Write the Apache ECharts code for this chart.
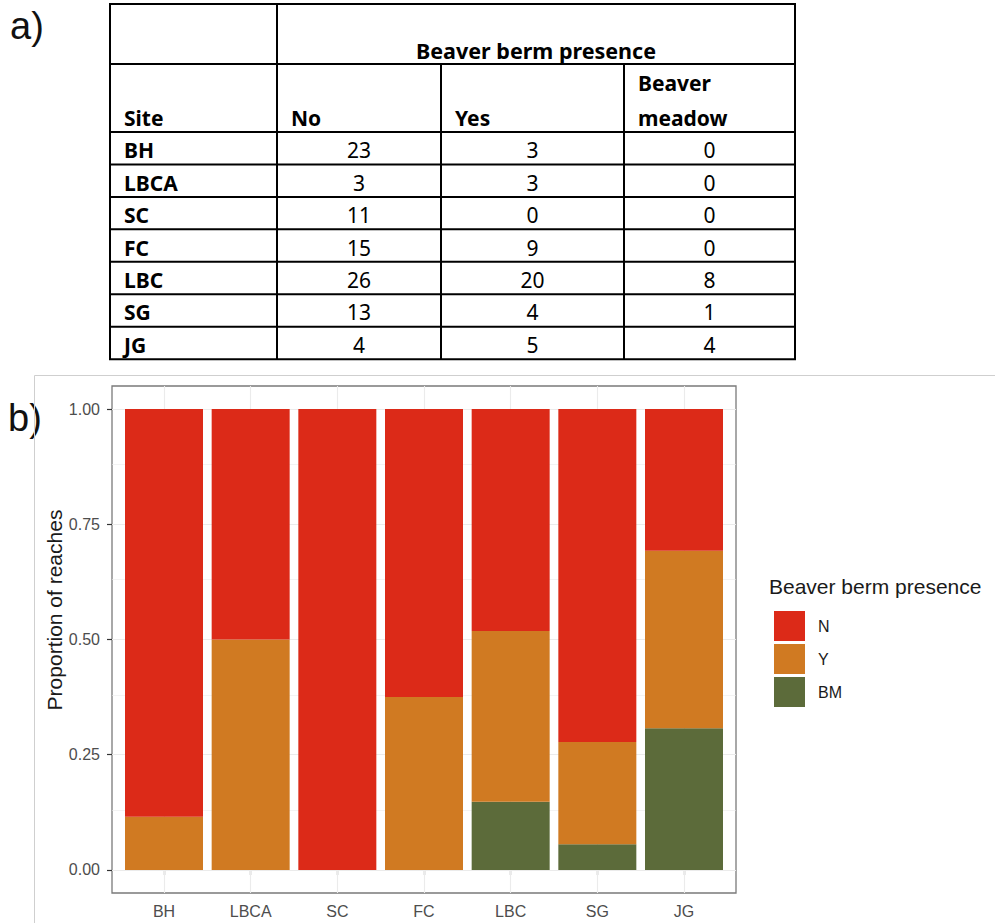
<!DOCTYPE html>
<html>
<head>
<meta charset="utf-8">
<title>Beaver berm presence by site</title>
<script src="https://cdn.jsdelivr.net/npm/echarts@6/dist/echarts.min.js"></script>
<style>
  html, body { margin: 0; padding: 0; background: #fff; }
  #main { width: 995px; height: 923px; }
</style>
</head>
<body>
<div id="main"></div>
<script>
// Reach counts per site, by beaver berm presence
const sites = ['BH', 'LBCA', 'SC', 'FC', 'LBC', 'SG', 'JG'];
const countNo = [23, 3, 11, 15, 26, 13, 4];
const countYes = [3, 3, 0, 9, 20, 4, 5];
const countMeadow = [0, 0, 0, 0, 8, 1, 4];

// Table headings
const tableGroupHeading = 'Beaver berm presence';
const tableHeadings = ['Site', 'No', 'Yes', 'Beaver\nmeadow'];

// Chart labels
const legendNames = ['N', 'Y', 'BM'];
const legendTitle = 'Beaver berm presence';
const yAxisTitle = 'Proportion of reaches';
const yTicks = [0, 0.25, 0.5, 0.75, 1];
const yMinor = [0.125, 0.375, 0.625, 0.875];

const colors = { N: '#dc2a18', Y: '#d07a22', BM: '#5c6b3a' };

const chart = echarts.init(document.getElementById('main'), null, { renderer: 'svg', width: 995, height: 923 });

// ---------- table (panel a) ----------
const colEdges = [110, 277, 441, 624, 795];
const rowH = 32.45;
const rowEdges = [4, 64, 132];
for (let i = 1; i <= sites.length; i++) rowEdges.push(132 + rowH * i);
const tableBottom = rowEdges[rowEdges.length - 1];
const tFont = '"Noto Sans", "DejaVu Sans", sans-serif';
const lineStyle = { stroke: '#000', lineWidth: 2 };

const graphics = [];
rowEdges.forEach(y => graphics.push({ type: 'line', shape: { x1: colEdges[0] - 1, y1: y, x2: colEdges[4] + 1, y2: y }, style: lineStyle, silent: true }));
[colEdges[0], colEdges[1], colEdges[4]].forEach(x => graphics.push({ type: 'line', shape: { x1: x, y1: rowEdges[0], x2: x, y2: tableBottom }, style: lineStyle, silent: true }));
[colEdges[2], colEdges[3]].forEach(x => graphics.push({ type: 'line', shape: { x1: x, y1: rowEdges[1], x2: x, y2: tableBottom }, style: lineStyle, silent: true }));

function tText(text, x, y, align, bold, size) {
  graphics.push({
    type: 'text', x: x, y: y, silent: true,
    style: { text: text, fill: '#000', font: (bold ? 'bold ' : '') + (size || 21) + 'px ' + tFont, align: align, verticalAlign: 'middle', lineHeight: 35 }
  });
}
tText(tableGroupHeading, (colEdges[1] + colEdges[4]) / 2, 50, 'center', true, 21.5);
tableHeadings.forEach((h, j) => {
  const lines = h.split('\n');
  const y = lines.length > 1 ? 100 : 118;
  tText(h, colEdges[j] + 14, y, 'left', true);
});
const tableCols = [countNo, countYes, countMeadow];
sites.forEach((s, i) => {
  const yc = rowEdges[2 + i] + rowH / 2 + 2;
  tText(s, colEdges[0] + 14, yc, 'left', true);
  tableCols.forEach((col, j) => tText(String(col[i]), (colEdges[j + 1] + colEdges[j + 2]) / 2, yc, 'center', false));
});

// panel letters
const pFont = '38px "Liberation Sans", Arial, sans-serif';
graphics.push({ type: 'text', x: 10, y: 26, silent: true, style: { text: 'a)', font: pFont, fill: '#111', verticalAlign: 'middle' } });
graphics.push({ type: 'text', x: 8, y: 418, silent: true, style: { text: 'b)', font: pFont, fill: '#111', verticalAlign: 'middle' } });

// frame around the plot figure
graphics.push({ type: 'line', shape: { x1: 34.5, y1: 375.5, x2: 995, y2: 375.5 }, style: { stroke: '#cfcfcf', lineWidth: 1 }, silent: true });
graphics.push({ type: 'line', shape: { x1: 34.5, y1: 375.5, x2: 34.5, y2: 923 }, style: { stroke: '#cfcfcf', lineWidth: 1 }, silent: true });

// axis title and legend title
const aFont = '"Liberation Sans", Arial, sans-serif';
graphics.push({ type: 'text', x: 54, y: 610, rotation: Math.PI / 2, silent: true, style: { text: yAxisTitle, font: '21px ' + aFont, fill: '#1a1a1a', align: 'center', verticalAlign: 'middle' } });
graphics.push({ type: 'text', x: 769, y: 586, silent: true, style: { text: legendTitle, font: '21px ' + aFont, fill: '#1a1a1a', align: 'left', verticalAlign: 'middle' } });

// ---------- stacked proportion bars (panel b) ----------
const totals = sites.map((s, i) => countNo[i] + countYes[i] + countMeadow[i]);
const share = counts => counts.map((c, i) => c / totals[i]);

// panel spans 7.2 category units (0.6 unit of padding each side);
// bars live in the inner grid, the outer grid carries the border and y axis
const panel = { left: 112, top: 386, width: 624, height: 507 };
const unit = panel.width / 7.2;
const yRange = { min: -0.05, max: 1.05 };

const gridColor = '#ebebeb';
const hLines = [];
yTicks.forEach(v => hLines.push({ yAxis: v, lineStyle: { color: gridColor, width: 1.1, type: 'solid' } }));
yMinor.forEach(v => hLines.push({ yAxis: v, lineStyle: { color: gridColor, width: 0.6, type: 'solid' } }));
const vLines = sites.map(s => ({ xAxis: s, lineStyle: { color: gridColor, width: 1.1, type: 'solid' } }));

function barSeries(name, counts) {
  return {
    name: name, type: 'bar', stack: 'share', z: 3,
    xAxisIndex: 0, yAxisIndex: 0,
    barWidth: '90%',
    data: share(counts),
    itemStyle: { color: colors[name] },
    emphasis: { disabled: true }
  };
}

chart.setOption({
  animation: false,
  backgroundColor: '#fff',
  graphic: graphics,
  grid: [
    { left: panel.left + unit * 0.1, top: panel.top, width: panel.width - unit * 0.2, height: panel.height, show: false },
    { left: panel.left, top: panel.top, width: panel.width, height: panel.height, show: true, backgroundColor: '#fff', borderColor: '#7a7a7a', borderWidth: 1.3, z: 0 }
  ],
  xAxis: [
    {
      type: 'category', gridIndex: 0, data: sites,
      axisLine: { show: false },
      splitLine: { show: false },
      axisTick: { show: true, alignWithLabel: true, interval: 0, length: 5, lineStyle: { color: '#333', width: 1.2 } },
      axisLabel: { interval: 0, color: '#4d4d4d', fontSize: 16, fontFamily: aFont, margin: 10 }
    },
    { type: 'value', gridIndex: 1, min: 0, max: 1, show: false }
  ],
  yAxis: [
    { type: 'value', gridIndex: 0, min: yRange.min, max: yRange.max, show: false },
    {
      type: 'value', gridIndex: 1, min: yRange.min, max: yRange.max,
      axisLine: { show: false },
      splitLine: { show: false },
      axisTick: { show: true, customValues: yTicks, length: 5, lineStyle: { color: '#333', width: 1.2 } },
      axisLabel: {
        customValues: yTicks,
        formatter: v => v.toFixed(2),
        color: '#4d4d4d', fontSize: 16, fontFamily: aFont, margin: 12
      }
    }
  ],
  legend: {
    data: legendNames,
    orient: 'vertical', left: 769, top: 606,
    itemWidth: 31, itemHeight: 30, itemGap: 3,
    icon: 'rect',
    selectedMode: false,
    textStyle: { color: '#1a1a1a', fontSize: 16, fontFamily: aFont, padding: [0, 0, 0, 8] }
  },
  series: [
    {
      type: 'line', xAxisIndex: 1, yAxisIndex: 1, data: [], z: 1, silent: true,
      markLine: { silent: true, z: 1, symbol: 'none', label: { show: false }, animation: false, data: hLines }
    },
    {
      type: 'line', xAxisIndex: 0, yAxisIndex: 0, data: [], z: 1, silent: true,
      markLine: { silent: true, z: 1, symbol: 'none', label: { show: false }, animation: false, data: vLines }
    },
    barSeries('BM', countMeadow),
    barSeries('Y', countYes),
    barSeries('N', countNo)
  ]
});
</script>
</body>
</html>
